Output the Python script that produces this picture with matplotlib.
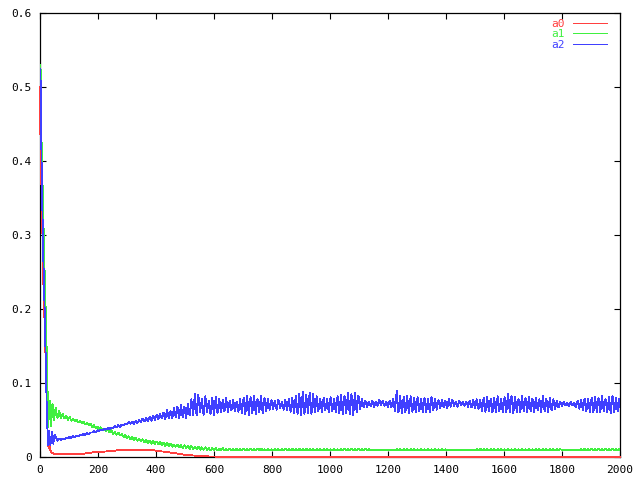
import numpy as np
import matplotlib
matplotlib.use("Agg")
import matplotlib.pyplot as plt

# ---------------- data ----------------
red_x = [0, 2, 4, 6, 8, 10, 12, 14, 16, 18, 20, 22, 24, 26, 27, 29, 31, 33, 35, 40, 50,
         100, 150, 160, 200, 250, 280, 370, 400, 450, 500, 560, 610, 615, 2000]
red_y = [0.50, 0.41, 0.39, 0.34, 0.31, 0.26, 0.23, 0.21, 0.176, 0.15, 0.126, 0.09, 0.065,
         0.036, 0.02, 0.014, 0.012, 0.016, 0.010, 0.006, 0.004, 0.004, 0.004, 0.0054,
         0.0068, 0.008, 0.010, 0.010, 0.0086, 0.006, 0.003, 0.001, 0.0005, 0.0, 0.0]

green_early_x = [0, 3, 5, 7, 9, 11, 13, 15, 16, 18, 20, 22, 24, 26, 28, 29, 31, 34, 38, 43, 48, 54]
green_early_y = [0.53, 0.52, 0.43, 0.41, 0.365, 0.34, 0.295, 0.26, 0.25, 0.21, 0.20, 0.16,
                 0.125, 0.09, 0.05, 0.04, 0.075, 0.076, 0.042, 0.072, 0.050, 0.066]

blue_early_x = [0, 3, 5, 7, 10, 12, 14, 16, 18, 20, 22, 24, 26, 28, 31, 36, 41, 46, 50, 54]
blue_early_y = [0.525, 0.50, 0.41, 0.36, 0.30, 0.26, 0.23, 0.20, 0.16, 0.13, 0.09, 0.05,
                0.035, 0.016, 0.035, 0.016, 0.034, 0.018, 0.030, 0.027]

# oscillating part: one trough and one peak per cycle, cycles start at x=60
cycle_start = 60
cycle_len = 12

green_lo = [
    0.053, 0.053, 0.052, 0.050, 0.049, 0.048, 0.047, 0.046, 0.044, 0.043,
    0.040, 0.039, 0.038, 0.036, 0.035, 0.033, 0.031, 0.030, 0.029, 0.027,
    0.025, 0.024, 0.023, 0.022, 0.021, 0.020, 0.019, 0.018, 0.018, 0.017,
    0.016, 0.015, 0.015, 0.014, 0.014, 0.013, 0.012, 0.012, 0.011, 0.011,
    0.011, 0.010, 0.010, 0.010, 0.009, 0.009, 0.009, 0.009, 0.009, 0.009,
    0.0090, 0.0088, 0.0090, 0.0088, 0.0090, 0.0090, 0.0088, 0.0090, 0.0088, 0.0090,
    0.0088, 0.0090, 0.0090, 0.0088, 0.0090, 0.0088, 0.0090, 0.0090, 0.0088, 0.0090,
    0.0090, 0.0088, 0.0090, 0.0088, 0.0090, 0.0090, 0.0088, 0.0090, 0.0088, 0.0090,
    0.0088, 0.0090, 0.0090, 0.0088, 0.0090, 0.0088, 0.0090, 0.0090, 0.0088, 0.0090,
    0.0095, 0.0095, 0.0095, 0.0095, 0.0095, 0.0095, 0.0095, 0.0090, 0.0088, 0.0090,
    0.0088, 0.0090, 0.0090, 0.0088, 0.0090, 0.0088, 0.0090, 0.0090, 0.0088, 0.0090,
    0.0090, 0.0088, 0.0095, 0.0095, 0.0095, 0.0095, 0.0095, 0.0095, 0.0095, 0.0095,
    0.0090, 0.0088, 0.0090, 0.0088, 0.0090, 0.0090, 0.0088, 0.0090, 0.0088, 0.0090,
    0.0088, 0.0090, 0.0090, 0.0088, 0.0090, 0.0088, 0.0090, 0.0090, 0.0088, 0.0090,
    0.0090, 0.0088, 0.0090, 0.0088, 0.0090, 0.0095, 0.0095, 0.0095, 0.0095, 0.0095,
    0.0090, 0.0088, 0.0090, 0.0088, 0.0090, 0.0090, 0.0088, 0.0090, 0.0088, 0.0090,
    0.0088, 0.0090,
]
green_hi = [
    0.062, 0.058, 0.056, 0.054, 0.052, 0.050, 0.049, 0.048, 0.046, 0.045,
    0.043, 0.041, 0.040, 0.038, 0.037, 0.036, 0.034, 0.033, 0.031, 0.030,
    0.028, 0.027, 0.026, 0.025, 0.024, 0.023, 0.022, 0.022, 0.021, 0.020,
    0.019, 0.019, 0.018, 0.017, 0.017, 0.016, 0.016, 0.015, 0.015, 0.014,
    0.014, 0.013, 0.013, 0.012, 0.012, 0.012, 0.011, 0.012, 0.011, 0.011,
    0.0105, 0.0110, 0.0105, 0.0110, 0.0105, 0.0110, 0.0105, 0.0110, 0.0115, 0.0105,
    0.0110, 0.0105, 0.0110, 0.0105, 0.0110, 0.0110, 0.0105, 0.0110, 0.0105, 0.0110,
    0.0105, 0.0110, 0.0105, 0.0110, 0.0105, 0.0110, 0.0105, 0.0110, 0.0105, 0.0110,
    0.0105, 0.0110, 0.0115, 0.0105, 0.0110, 0.0105, 0.0110, 0.0105, 0.0110, 0.0105,
    0.0095, 0.0095, 0.0095, 0.0095, 0.0095, 0.0095, 0.0095, 0.0105, 0.0110, 0.0105,
    0.0110, 0.0105, 0.0110, 0.0105, 0.0110, 0.0105, 0.0110, 0.0105, 0.0110, 0.0105,
    0.0110, 0.0105, 0.0095, 0.0095, 0.0095, 0.0095, 0.0095, 0.0095, 0.0095, 0.0095,
    0.0105, 0.0110, 0.0105, 0.0110, 0.0105, 0.0110, 0.0105, 0.0110, 0.0105, 0.0110,
    0.0105, 0.0110, 0.0105, 0.0110, 0.0105, 0.0110, 0.0105, 0.0110, 0.0105, 0.0110,
    0.0105, 0.0110, 0.0105, 0.0110, 0.0105, 0.0095, 0.0095, 0.0095, 0.0095, 0.0095,
    0.0105, 0.0110, 0.0105, 0.0110, 0.0105, 0.0110, 0.0105, 0.0110, 0.0105, 0.0110,
    0.0105, 0.0110,
]

blue_lo = [
    0.022, 0.023, 0.024, 0.025, 0.026, 0.027, 0.028, 0.029, 0.030, 0.031,
    0.033, 0.034, 0.035, 0.036, 0.037, 0.038, 0.039, 0.040, 0.041, 0.043,
    0.044, 0.045, 0.045, 0.046, 0.047, 0.048, 0.048, 0.049, 0.050, 0.051,
    0.052, 0.051, 0.053, 0.052, 0.054, 0.052, 0.054, 0.053, 0.056, 0.057,
    0.056, 0.060, 0.057, 0.061, 0.058, 0.057, 0.059, 0.060, 0.062, 0.061,
    0.063, 0.062, 0.061, 0.059, 0.058, 0.057, 0.059, 0.058, 0.060, 0.059,
    0.062, 0.064, 0.065, 0.064, 0.066, 0.064, 0.063, 0.061, 0.059, 0.058,
    0.057, 0.058, 0.059, 0.058, 0.060, 0.062, 0.061, 0.063, 0.060, 0.062,
    0.060, 0.059, 0.058, 0.059, 0.058, 0.057, 0.060, 0.065, 0.067, 0.068,
    0.069, 0.068, 0.069, 0.070, 0.069, 0.068, 0.067, 0.062, 0.060, 0.059,
    0.060, 0.059, 0.061, 0.060, 0.062, 0.060, 0.061, 0.060, 0.063, 0.064,
    0.066, 0.067, 0.066, 0.068, 0.069, 0.068, 0.070, 0.069, 0.068, 0.067,
    0.066, 0.065, 0.062, 0.061, 0.062, 0.060, 0.061, 0.062, 0.060, 0.061,
    0.060, 0.059, 0.061, 0.060, 0.062, 0.061, 0.062, 0.060, 0.063, 0.061,
    0.062, 0.061, 0.063, 0.065, 0.067, 0.069, 0.070, 0.069, 0.070, 0.067,
    0.065, 0.063, 0.062, 0.061, 0.060, 0.061, 0.060, 0.062, 0.060, 0.059,
    0.060, 0.062,
]
blue_hi = [
    0.025, 0.025, 0.026, 0.027, 0.028, 0.029, 0.030, 0.031, 0.032, 0.033,
    0.035, 0.036, 0.037, 0.038, 0.039, 0.040, 0.042, 0.043, 0.044, 0.045,
    0.047, 0.048, 0.049, 0.050, 0.052, 0.053, 0.054, 0.056, 0.057, 0.058,
    0.060, 0.063, 0.062, 0.066, 0.068, 0.070, 0.068, 0.072, 0.078, 0.085,
    0.084, 0.078, 0.082, 0.076, 0.080, 0.081, 0.079, 0.077, 0.080, 0.076,
    0.077, 0.075, 0.078, 0.080, 0.082, 0.081, 0.083, 0.079, 0.082, 0.080,
    0.078, 0.077, 0.076, 0.077, 0.075, 0.077, 0.079, 0.080, 0.083, 0.085,
    0.088, 0.084, 0.087, 0.085, 0.082, 0.079, 0.080, 0.078, 0.081, 0.079,
    0.082, 0.084, 0.083, 0.086, 0.085, 0.086, 0.083, 0.078, 0.076, 0.075,
    0.076, 0.075, 0.077, 0.076, 0.075, 0.076, 0.078, 0.089, 0.082, 0.081,
    0.083, 0.082, 0.080, 0.081, 0.079, 0.080, 0.079, 0.081, 0.078, 0.077,
    0.077, 0.076, 0.078, 0.077, 0.075, 0.076, 0.074, 0.075, 0.076, 0.077,
    0.078, 0.077, 0.080, 0.081, 0.079, 0.080, 0.082, 0.079, 0.081, 0.085,
    0.083, 0.081, 0.079, 0.082, 0.080, 0.081, 0.079, 0.080, 0.078, 0.082,
    0.079, 0.080, 0.078, 0.076, 0.075, 0.074, 0.073, 0.074, 0.073, 0.076,
    0.077, 0.079, 0.078, 0.080, 0.081, 0.080, 0.082, 0.079, 0.081, 0.083,
    0.080, 0.079,
]

end_x = 2000
green_end = 0.0095
blue_end = 0.068

labels = ["a0", "a1", "a2"]
colors = ["#ff4040", "#40f040", "#4040ff"]

x_ticks = [0, 200, 400, 600, 800, 1000, 1200, 1400, 1600, 1800, 2000]
y_ticks = [0, 0.1, 0.2, 0.3, 0.4, 0.5, 0.6]
y_ticklabels = ["0", "0.1", "0.2", "0.3", "0.4", "0.5", "0.6"]


def build(early_x, early_y, lo, hi, end_y):
    n = len(lo)
    k = np.arange(n)
    xs = np.empty(2 * n)
    ys = np.empty(2 * n)
    xs[0::2] = cycle_start + cycle_len * k
    xs[1::2] = cycle_start + cycle_len * k + cycle_len / 2
    ys[0::2] = lo
    ys[1::2] = hi
    x = np.concatenate([early_x, xs, [end_x]])
    y = np.concatenate([early_y, ys, [end_y]])
    return x, y


gx, gy = build(green_early_x, green_early_y, green_lo, green_hi, green_end)
bx, by = build(blue_early_x, blue_early_y, blue_lo, blue_hi, blue_end)

# ---------------- figure ----------------
plt.rcParams['font.family'] = ['DejaVu Sans Mono']
fig = plt.figure(figsize=(6.4, 4.8), dpi=100)
ax = fig.add_axes([40 / 640, 23 / 480, 580 / 640, 444 / 480])

lw = 0.6
ax.plot(red_x, red_y, color=colors[0], lw=lw, label=labels[0], antialiased=False,
        clip_on=False, zorder=3)
ax.plot(gx, gy, color=colors[1], lw=lw, label=labels[1], antialiased=False, zorder=3)
ax.plot(bx, by, color=colors[2], lw=lw, label=labels[2], antialiased=False, zorder=3)

ax.set_xlim(0, 2000)
ax.set_ylim(0, 0.6)
ax.set_xticks(x_ticks)
ax.set_xticklabels([str(t) for t in x_ticks])
ax.set_yticks(y_ticks)
ax.set_yticklabels(y_ticklabels)
ax.tick_params(direction='in', length=4, width=0.8, top=True, right=True,
               labelsize=8, pad=6, colors='black')
for s in ax.spines.values():
    s.set_linewidth(0.9)
    s.set_color('black')
    s.set_zorder(2.5)

leg = ax.legend(loc='upper right', bbox_to_anchor=(0.985, 0.997), frameon=False,
                markerfirst=False, handlelength=3.05, handletextpad=0.7,
                labelspacing=0.05, fontsize=8, borderaxespad=0.0)
for line in leg.get_lines():
    line.set_linewidth(0.72)
    line.set_antialiased(False)
for txt, c in zip(leg.get_texts(), colors):
    txt.set_color(c)

fig.savefig("out.png", dpi=100)
